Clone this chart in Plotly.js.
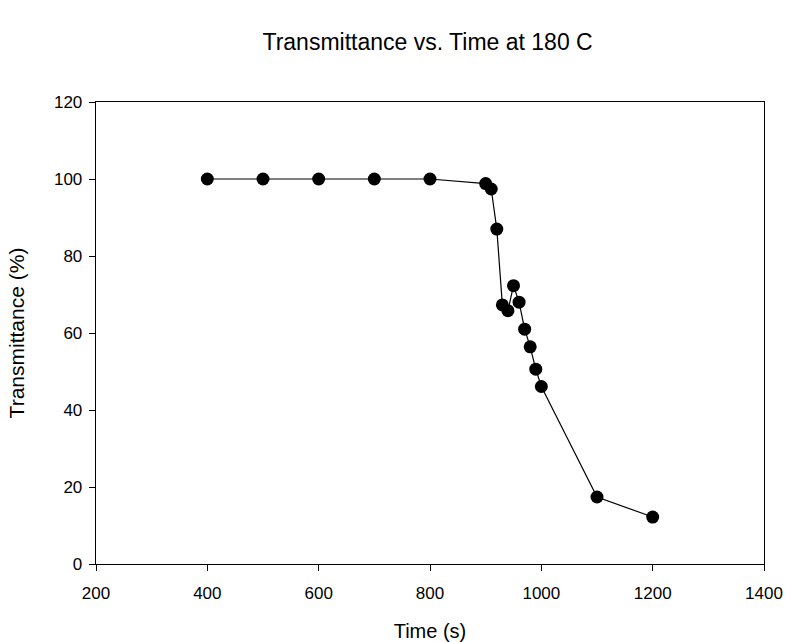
<!DOCTYPE html>
<html>
<head>
<meta charset="utf-8">
<script src="https://cdn.plot.ly/plotly-3.0.1.min.js"></script>
<style>html,body{margin:0;padding:0;background:#fff}#chart{width:786px;height:642px}</style>
</head>
<body>
<div id="chart"></div>
<script>
const timeS = [400, 500, 600, 700, 800, 900, 910, 920, 930, 940, 950, 960, 970, 980, 990, 1000, 1100, 1200];
const transmittance = [100, 100, 100, 100, 100, 98.8, 97.4, 87.0, 67.3, 65.8, 72.3, 68.0, 61.0, 56.4, 50.6, 46.1, 17.4, 12.2];
const xTicks = [200, 400, 600, 800, 1000, 1200, 1400];
const yTicks = [0, 20, 40, 60, 80, 100, 120];

const font = 'Liberation Sans, Arial, sans-serif';
Plotly.newPlot('chart', [{
  x: timeS, y: transmittance, type: 'scatter', mode: 'lines+markers',
  line: {color: '#000', width: 1.2},
  marker: {color: '#000', size: 13},
  cliponaxis: false
}], {
  width: 786, height: 642,
  margin: {l: 96, r: 22, t: 102, b: 78},
  paper_bgcolor: '#fff', plot_bgcolor: '#fff',
  showlegend: false,
  title: {text: 'Transmittance vs. Time at 180 C', font: {family: font, size: 23, color: '#000'}, x: 0.544, xanchor: 'center', y: 0.935, yanchor: 'middle'},
  xaxis: {range: [200, 1400], tickvals: xTicks, ticktext: xTicks.map(String), showgrid: false, zeroline: false,
    showline: true, mirror: true, linecolor: '#000', linewidth: 1.3, ticks: 'outside', ticklen: 6, tickcolor: '#000',
    ticklabelstandoff: 7,
    tickfont: {family: font, size: 17, color: '#000'},
    title: {text: 'Time (s)', font: {family: font, size: 20, color: '#000'}, standoff: 23}},
  yaxis: {range: [0, 120], tickvals: yTicks, ticktext: yTicks.map(String), showgrid: false, zeroline: false,
    showline: true, mirror: true, linecolor: '#000', linewidth: 1.3, ticks: 'outside', ticklen: 6, tickcolor: '#000',
    ticklabelstandoff: 3,
    tickfont: {family: font, size: 17, color: '#000'},
    title: {text: 'Transmittance (%)', font: {family: font, size: 21, color: '#000'}, standoff: 23}}
}, {displayModeBar: false, staticPlot: true});
</script>
</body>
</html>
